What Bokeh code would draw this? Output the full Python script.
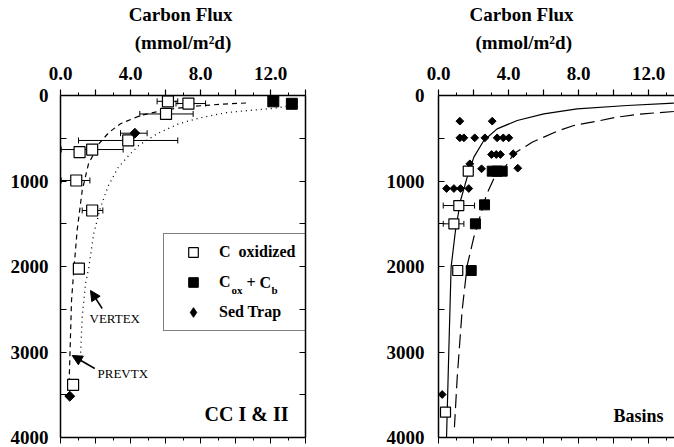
import math
from bokeh.plotting import figure
from bokeh.models import (Range1d, LinearAxis, FixedTicker, Title, Whisker, TeeHead,
                          ColumnDataSource, Legend, LegendItem, Label, Arrow, NormalHead)
from bokeh.layouts import row
from bokeh.embed import file_html
from bokeh.resources import INLINE

FONT = "Liberation Serif"

# ---------------- tick labels ----------------
x_major_ticks = [0, 2, 4, 6, 8, 10, 12, 14]
x_minor_ticks = [1, 3, 5, 7, 9, 11, 13]
x_tick_labels = {0: "0.0", 2: "", 4: "4.0", 6: "", 8: "8.0", 10: "", 12: "12.0", 14: ""}
y_major_ticks = [0, 1000, 2000, 3000, 4000]
y_minor_ticks = [500, 1500, 2500, 3500]

# ---------------- left panel: CC I & II ----------------
cc_cox_flux = [6.14, 7.31, 6.03, 3.87, 1.81, 1.09, 0.90, 1.81, 1.05, 0.72]
cc_cox_depth = [68, 94, 216, 526, 632, 663, 994, 1345, 2025, 3384]
cc_err_depth = [68, 94, 216, 526, 632, 994, 1345, 441]
cc_err_lo = [5.52, 6.60, 4.53, 1.03, 0.04, 0.04, 1.24, 3.43]
cc_err_hi = [6.70, 8.29, 7.58, 6.70, 3.58, 1.68, 2.42, 4.95]
cc_coxb_flux = [12.16, 13.22]
cc_coxb_depth = [68, 97]
cc_trap_flux = [4.25, 0.53]
cc_trap_depth = [441, 3517]
prevtx_flux = [10.6, 9.3, 8.0, 6.6, 5.5, 4.57, 3.43, 2.76, 2.2, 1.6, 1.24, 0.95, 0.76, 0.63, 0.53, 0.48]
prevtx_depth = [88, 100, 120, 150, 190, 234, 330, 433, 564, 800, 1111, 1579, 2047, 2398, 3100, 3450]
vertex_flux = [13.2, 12.2, 10.5, 9.5, 8.0, 6.76, 5.52, 4.46, 3.9, 3.3, 2.74, 2.29, 1.9, 1.62, 1.43, 1.24, 1.14]
vertex_depth = [117, 150, 180, 200, 260, 330, 447, 585, 702, 842, 1053, 1306, 1614, 2008, 2199, 2593, 3060]

# ---------------- right panel: Basins ----------------
bs_cox_flux = [1.70, 1.16, 0.88, 1.10, 0.40]
bs_cox_depth = [885, 1287, 1501, 2047, 3704]
bs_err_depth = [1287, 1501]
bs_err_lo = [0.27, 0.27]
bs_err_hi = [2.06, 1.45]
bs_coxb_flux = [3.07, 3.35, 3.64, 2.63, 2.11, 1.87]
bs_coxb_depth = [885, 885, 885, 1279, 1501, 2047]
bs_trap_flux = [1.22, 3.07, 1.22, 1.45, 2.07, 2.65, 3.35, 3.70, 4.02,
                3.03, 3.30, 3.54, 4.27, 1.79, 2.46, 4.53,
                0.46, 0.88, 1.26, 1.73, 0.21]
bs_trap_depth = [300, 300, 495, 495, 495, 495, 495, 495, 495,
                 690, 690, 690, 682, 799, 857, 850,
                 1088, 1088, 1088, 1088, 3497]
solid_flux = [13.45, 10.78, 7.92, 6.02, 4.5, 3.35, 2.59, 2.02, 1.64, 1.26, 0.97, 0.72, 0.59, 0.46]
solid_depth = [90, 117, 156, 214, 292, 390, 526, 721, 955, 1228, 1579, 2008, 2982, 3996]
dash_flux = [13.45, 11.7, 10.2, 9.26, 7.73, 6.78, 5.35, 4.3, 3.83, 3.16, 2.74, 2.02, 1.64, 1.35, 1.07, 0.91]
dash_depth = [187, 214, 253, 292, 351, 418, 546, 682, 830, 975, 1162, 1657, 1988, 2514, 3294, 3880]

# ---------------- layout constants ----------------
FH = 342
TOP = 95
FW_L, FW_R = 245, 236
PXU = 17.5


def ly(py):
    return (py - TOP) * 4000.0 / FH


def make_panel(fw, bl, br, x_end, right_axis):
    p = figure(frame_width=fw, frame_height=FH, x_range=Range1d(0, x_end), y_range=Range1d(4000, 0),
               x_axis_location="above", toolbar_location=None, output_backend="svg",
               min_border_top=TOP, min_border_left=bl, min_border_right=br, min_border_bottom=10,
               title=None, background_fill_color="white", border_fill_color="white")
    p.grid.visible = False
    p.outline_line_color = None
    tax = p.xaxis[0]
    tax.ticker = FixedTicker(ticks=x_major_ticks, minor_ticks=x_minor_ticks)
    tax.major_label_overrides = x_tick_labels
    tax.major_label_text_font = FONT
    tax.major_label_text_font_style = "bold"
    tax.major_label_text_font_size = "19px"
    tax.major_label_text_color = "black"
    tax.major_label_standoff = 10
    tax.major_tick_out = 6
    tax.major_tick_in = 0
    tax.minor_tick_out = 3
    tax.minor_tick_in = 0
    tax.axis_line_width = 1.5
    tax.major_tick_line_width = 1.2
    yax = p.yaxis[0]
    yax.ticker = FixedTicker(ticks=y_major_ticks, minor_ticks=y_minor_ticks)
    yax.major_label_text_font = FONT
    yax.major_label_text_font_style = "bold"
    yax.major_label_text_font_size = "19px"
    yax.major_label_text_color = "black"
    yax.major_label_standoff = 12
    yax.major_tick_in = 6
    yax.major_tick_out = 0
    yax.minor_tick_in = 6
    yax.minor_tick_out = 0
    yax.axis_line_width = 1.5
    bax = LinearAxis(ticker=FixedTicker(ticks=x_major_ticks, minor_ticks=x_minor_ticks),
                     major_label_overrides={t: "" for t in x_major_ticks}, major_label_standoff=0,
                     major_tick_out=6, major_tick_in=0, minor_tick_out=3, minor_tick_in=0,
                     axis_line_width=1.5)
    p.add_layout(bax, "below")
    if right_axis:
        rax = LinearAxis(ticker=FixedTicker(ticks=y_major_ticks, minor_ticks=y_minor_ticks),
                         major_label_overrides={t: "" for t in y_major_ticks}, major_label_standoff=0,
                         major_tick_in=6, major_tick_out=0, minor_tick_in=6, minor_tick_out=0,
                         axis_line_width=1.5)
        p.add_layout(rax, "right")
    return p


def add_titles(p, align, off_sub, off_title):
    p.add_layout(Title(text="(mmol/m²d)", align=align, offset=off_sub, text_font=FONT,
                       text_font_style="bold", text_font_size="19px", text_color="black",
                       standoff=22), "above")
    p.add_layout(Title(text="Carbon  Flux", align=align, offset=off_title, text_font=FONT,
                       text_font_style="bold", text_font_size="19px", text_color="black",
                       standoff=-13), "above")


def whiskers(p, depth, lo, hi):
    src = ColumnDataSource(dict(base=depth, lower=lo, upper=hi))
    w = Whisker(source=src, base="base", lower="lower", upper="upper", dimension="width",
                line_color="black", line_width=1,
                lower_head=TeeHead(size=6, line_color="black", line_width=1),
                upper_head=TeeHead(size=6, line_color="black", line_width=1))
    w.level = "underlay"
    p.add_layout(w)


# ---------------- left ----------------
pl = make_panel(FW_L, 60, 65, 14, True)
add_titles(pl, "center", 0, 0)
pl.line(prevtx_flux, prevtx_depth, line_color="black", line_width=1.2, line_dash="5 4")
pl.line(vertex_flux, vertex_depth, line_color="black", line_width=1.3, line_dash="1 4")
whiskers(pl, cc_err_depth, cc_err_lo, cc_err_hi)
r_ox = pl.scatter(cc_cox_flux, cc_cox_depth, marker="square", size=11, fill_color="white",
                  line_color="black", line_width=1.2)
r_b = pl.scatter(cc_coxb_flux, cc_coxb_depth, marker="square", size=11, fill_color="black",
                 line_color="black")
pl.scatter(cc_trap_flux, cc_trap_depth, marker="square", angle=math.pi / 4, size=7,
           fill_color="black", line_color="black")
# hidden proxy used only for the legend's diamond symbol
r_dia = pl.scatter(cc_trap_flux[:1], cc_trap_depth[:1], marker="diamond", size=12,
                   fill_color="black", line_color="black", visible=False)

legend = Legend(items=[LegendItem(label="C  oxidized", renderers=[r_ox]),
                       LegendItem(label="C", renderers=[r_b]),
                       LegendItem(label="Sed Trap", renderers=[r_dia])],
                location=(103, 106), margin=0, padding=6, spacing=6,
                glyph_width=46, glyph_height=24, label_height=24, label_width=80, label_standoff=3,
                label_text_font=FONT, label_text_font_style="bold", label_text_font_size="16px",
                label_text_color="black", inactive_fill_alpha=0.0,
                border_line_color="black", border_line_width=1.5, background_fill_alpha=0.0)
pl.add_layout(legend)

sub_kw = dict(text_font=FONT, text_font_style="bold", text_baseline="middle", text_align="left",
              text_color="black")
pl.add_layout(Label(x=(231 - 60) / PXU, y=ly(289), text="ox", text_font_size="11px", **sub_kw))
pl.add_layout(Label(x=(246 - 60) / PXU, y=ly(282), text="+ C", text_font_size="16px", **sub_kw))
pl.add_layout(Label(x=(271 - 60) / PXU, y=ly(289), text="b", text_font_size="11px", **sub_kw))

pl.add_layout(Arrow(end=NormalHead(size=10, fill_color="black", line_color="black"),
                    x_start=(101.7 - 60) / PXU, y_start=ly(308), x_end=(90 - 60) / PXU, y_end=ly(290),
                    line_color="black", line_width=1.5))
pl.add_layout(Arrow(end=NormalHead(size=10, fill_color="black", line_color="black"),
                    x_start=(94.3 - 60) / PXU, y_start=ly(368), x_end=(71.7 - 60) / PXU, y_end=ly(355),
                    line_color="black", line_width=1.5))
pl.add_layout(Label(x=(89 - 60) / PXU, y=ly(318), text="VERTEX", text_font=FONT, text_font_size="13px",
                    text_color="black", text_baseline="middle", text_align="left"))
pl.add_layout(Label(x=(97 - 60) / PXU, y=ly(373), text="PREVTX", text_font=FONT, text_font_size="13px",
                    text_color="black", text_baseline="middle", text_align="left"))
pl.add_layout(Label(x=(288 - 60) / PXU, y=ly(413), text="CC I & II", text_font=FONT, text_font_style="bold",
                    text_font_size="20px", text_color="black", text_baseline="middle", text_align="right"))

# ---------------- right ----------------
pr = make_panel(FW_R, 68, 0, FW_R / PXU, False)
add_titles(pr, "left", 523 - 438 - 48, 523 - 438 - 54)
pr.yaxis[0].major_label_standoff = 14
pr.line(solid_flux, solid_depth, line_color="black", line_width=1.2)
pr.line(dash_flux, dash_depth, line_color="black", line_width=1.2, line_dash="14 6")
whiskers(pr, bs_err_depth, bs_err_lo, bs_err_hi)
pr.scatter(bs_trap_flux, bs_trap_depth, marker="square", angle=math.pi / 4, size=5.5,
           fill_color="black", line_color="black")
pr.scatter(bs_cox_flux, bs_cox_depth, marker="square", size=10, fill_color="white",
           line_color="black", line_width=1.2)
pr.scatter(bs_coxb_flux, bs_coxb_depth, marker="square", size=10, fill_color="black",
           line_color="black")
pr.add_layout(Label(x=(663 - 438) / PXU, y=ly(415), text="Basins", text_font=FONT, text_font_style="bold",
                    text_font_size="18px", text_color="black", text_baseline="middle", text_align="right"))

layout = row(pl, pr, spacing=0)
open("out.html", "w").write(file_html(layout, INLINE))
